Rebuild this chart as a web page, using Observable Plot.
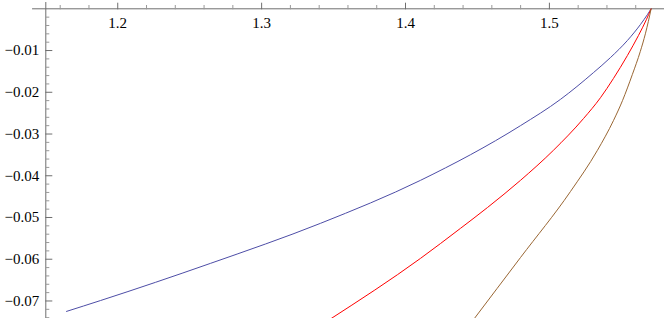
<!DOCTYPE html>
<html><head><meta charset="utf-8">
<script src="https://cdn.jsdelivr.net/npm/d3@7"></script>
<script src="https://cdn.jsdelivr.net/npm/@observablehq/plot@0.6"></script>
<style>
html,body{margin:0;padding:0;background:#fff;}
#chart svg{display:block;}
</style></head><body><div id="chart"></div>
<script>
// Series
const blueX = [1.1644, 1.1880, 1.2644, 1.3409, 1.4104, 1.4799, 1.5077, 1.5306, 1.5424, 1.5542, 1.5632, 1.5681, 1.5707];
const blueY = [-0.0725, -0.0699, -0.0610, -0.0514, -0.0411, -0.0280, -0.0217, -0.0153, -0.0117, -0.0076, -0.0038, -0.0014, 0];
const redX  = [1.3470, 1.4104, 1.4382, 1.4570, 1.4799, 1.5028, 1.5237, 1.5355, 1.5445, 1.5542, 1.5619, 1.5674, 1.5707];
const redY  = [-0.0745, -0.0598, -0.0526, -0.0476, -0.0411, -0.0339, -0.0263, -0.0213, -0.0167, -0.0112, -0.0064, -0.0026, 0];
const brownX = [1.4472, 1.4799, 1.5146, 1.5334, 1.5445, 1.5508, 1.5577, 1.5632, 1.5667, 1.5688, 1.5707];
const brownY = [-0.0745, -0.0596, -0.0438, -0.0339, -0.0268, -0.0220, -0.0157, -0.0102, -0.0060, -0.0030, 0];

// Tick values
const xMajors = [1.2, 1.3, 1.4, 1.5];
const xMinors = [1.16, 1.18, 1.22, 1.24, 1.26, 1.28, 1.32, 1.34, 1.36, 1.38, 1.42, 1.44, 1.46, 1.48, 1.52, 1.54, 1.56];
const yMajors = [-0.01, -0.02, -0.03, -0.04, -0.05, -0.06, -0.07];
const yMinors = d3.range(1, 38).map(i => -i * 0.002).filter(v => Math.abs(Math.round(v * 500) % 5) !== 0);

const zip = (xs, ys) => xs.map((x, i) => ({x, y: ys[i]}));
const blue = zip(blueX, blueY), red = zip(redX, redY), brown = zip(brownX, brownY);

const font = "Liberation Serif";
const axisColor = "#6e6e6e";

const chart = Plot.plot({
  width: 664, height: 318,
  marginTop: 8.3, marginLeft: 45.3, marginRight: 0, marginBottom: 0,
  x: {domain: [1.15, 1.58]},
  y: {domain: [-0.0742, 0]},
  marks: [
    // axis lines
    Plot.ruleY([0], {x1: 1.1408, x2: 1.58, stroke: axisColor}),
    Plot.ruleX([1.15], {y1: 0.0015, y2: -0.0742, stroke: axisColor}),
    // x ticks (upward)
    Plot.axisX({anchor: "top", ticks: xMajors, tickSize: 6.6, tickFormat: () => "", stroke: axisColor, label: null}),
    Plot.axisX({anchor: "top", ticks: xMinors, tickSize: 4.3, tickFormat: () => "", stroke: "#999", label: null}),
    // y ticks (inward)
    Plot.axisY({anchor: "left", ticks: yMajors, tickSize: -7, tickFormat: () => "", stroke: axisColor, label: null}),
    Plot.axisY({anchor: "left", ticks: yMinors, tickSize: -4, tickFormat: () => "", stroke: "#999", label: null}),
    // labels
    Plot.axisY({anchor: "left", ticks: yMajors, tickSize: 0, tickPadding: 6.5, fontSize: 15, fill: "#000",
      fontFamily: font, tickFormat: d => "\u2212" + Math.abs(d).toFixed(2), label: null}),
    Plot.text(xMajors, {x: d => d, y: 0, dy: 14.5, text: d => d.toFixed(1), fontSize: 15, fill: "#000", fontFamily: font}),
    // curves
    Plot.line(blue, {x: "x", y: "y", stroke: "#4d4da6", strokeWidth: 1, curve: "monotone-x", clip: true}),
    Plot.line(red, {x: "x", y: "y", stroke: "#ff0000", strokeWidth: 1, curve: "monotone-x", clip: true}),
    Plot.line(brown, {x: "x", y: "y", stroke: "#996633", strokeWidth: 1, curve: "monotone-x", clip: true})
  ]
});
document.getElementById("chart").appendChild(chart);
</script>
</body></html>
